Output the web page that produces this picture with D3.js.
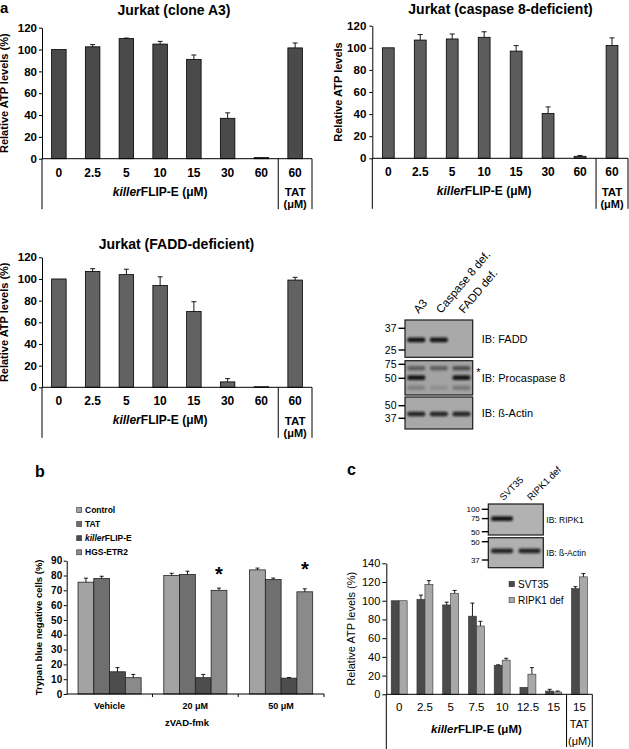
<!DOCTYPE html>
<html><head><meta charset="utf-8">
<script src="https://cdn.jsdelivr.net/npm/d3@7"></script>
<style>body{margin:0;background:#fff}svg{display:block}</style>
</head><body><svg id="fig" width="629" height="749"></svg>
<script>
// ---------------- DATA ----------------
const concA = ["0","2.5","5","10","15","30","60","60"];
const a3Values = [100,102.5,110,105,91,37,1,101.5];
const a3Errors = [0,2,0.5,2.5,4,5,0,4.5];
const casp8Values = [100,107,108,109.5,97,40.5,1.8,102];
const casp8Errors = [0,5,4.5,5,5,6,0.8,7];
const faddValues = [100,107,104,94,70,5,0.5,99];
const faddErrors = [0,2.5,5,8,9,3,0,2.5];
const yTicksA = [0,20,40,60,80,100,120];

const blotALanes = ["A3","Caspase 8 def.","FADD def."];
const blotAPanels = ["IB: FADD","IB: Procaspase 8","IB: ß-Actin"];
const blotAMarkers = [[37,25],[75,50],[50,37]];
// [panel, lane, kDa, intensity]
const blotABands = [[0,0,30,0.95],[0,1,30,0.95],
  [1,0,67,0.45],[1,1,67,0.45],[1,2,67,0.55],[1,0,51,0.95],[1,2,51,0.95],[1,0,38,0.22],[1,1,38,0.12],[1,2,38,0.28],
  [2,0,41,0.85],[2,1,41,0.85],[2,2,41,0.85]];

const groupsB = ["Vehicle","20 μM","50 μM"];
const seriesB = ["Control","TAT","killerFLIP-E","HGS-ETR2"];
const controlB = [75.5,80,83.8]; const controlErrB = [2.7,1.5,1.2];
const tatB = [78,80.7,77.3];     const tatErrB = [1.5,2.2,1];
const killerB = [15,11,10.7];    const killerErrB = [2.8,2.2,0.4];
const hgsB = [11,70,69];         const hgsErrB = [2.2,1.5,2];
const starsB = [["20 μM",83.7],["50 μM",87.1]];
const yTicksB = [0,10,20,30,40,50,60,70,80,90];

const blotCLanes = ["SVT35","RIPK1 def"];
const blotCPanels = ["IB: RIPK1","IB: ß-Actin"];
const blotCMarkers = [[100,75,50],[50,37]];
const blotCBands = [[0,0,75,0.95],[1,0,43,0.85],[1,1,43,0.85]];

const concC = ["0","2.5","5","7.5","10","12.5","15","15"];
const seriesC = ["SVT35","RIPK1 def"];
const svt35Values = [100,101.5,95.5,83.5,31,7.5,3.5,113];
const svt35Errors = [0,4.5,3,14,0.5,0,1.8,2];
const ripk1Values = [100,117.5,108,73,36.5,21.5,2.5,125.5];
const ripk1Errors = [0,4,3,5,2,7,1,3.5];
const yTicksC = [0,20,40,60,80,100,120,140];

// ---------------- HELPERS ----------------
const F = '"Liberation Sans", Arial, Helvetica, sans-serif';
const svg = d3.select("#fig");
function txt(g,x,y,s,o={}){
  const t=g.append("text").attr("x",x).attr("y",y).text(s)
    .attr("font-family",F).attr("font-size",o.size||11)
    .attr("font-weight",o.bold?"bold":"normal")
    .attr("text-anchor",o.anchor||"middle").attr("fill","#000");
  if(o.rotate) t.attr("transform",`rotate(${o.rotate},${x},${y})`);
  return t;
}
function killerTxt(g,x,y,size,suffix,anchor){
  const t=g.append("text").attr("x",x).attr("y",y).attr("font-family",F)
    .attr("font-size",size).attr("font-weight","bold").attr("text-anchor",anchor||"middle").attr("fill","#000");
  t.append("tspan").attr("font-style","italic").text("killer");
  t.append("tspan").text("FLIP-E"+suffix);
  return t;
}
function ln(g,x1,y1,x2,y2,w){
  g.append("line").attr("x1",x1).attr("y1",y1).attr("x2",x2).attr("y2",y2)
   .attr("stroke","#000").attr("stroke-width",w||1);
}
function errBars(g,cx,vals,errs,y,cap){
  vals.forEach((v,i)=>{
    if(errs[i]<=0) return;
    const c=cx(i);
    ln(g,c,y(v),c,y(v+errs[i]),0.9);
    ln(g,c-cap/2,y(v+errs[i]),c+cap/2,y(v+errs[i]),0.9);
  });
}
function styleAxis(a,size,bold){
  a.selectAll("text").attr("font-family",F).attr("font-size",size)
   .attr("font-weight",bold?"bold":"normal").attr("fill","#000");
  a.selectAll("line,path").attr("stroke","#000");
}

// ---------------- PANEL a: ATP charts ----------------
function atpChart(c){
  const g=svg.append("g");
  const n=c.values.length;
  const x=d3.scaleBand().domain(d3.range(n)).range([c.x0,c.x1]).paddingInner(c.pad).paddingOuter(c.pad/2);
  const y=d3.scaleLinear().domain([0,120]).range([c.yB,c.yT]);
  txt(g,c.titleX,c.titleY,c.title,{size:14,bold:true});
  const ya=g.append("g").attr("transform",`translate(${c.x0},0)`)
    .call(d3.axisLeft(y).tickValues(yTicksA).tickSize(3).tickPadding(c.tp).tickSizeOuter(0));
  styleAxis(ya,11.5,true);
  txt(g,c.ylx,(c.yT+c.yB)/2,c.ylabel,{size:11,bold:true,rotate:-90});
  g.selectAll("rect.bar").data(c.values).join("rect").attr("class","bar")
    .attr("x",(d,i)=>x(i)).attr("y",d=>y(d)).attr("width",x.bandwidth())
    .attr("height",d=>c.yB-y(d)).attr("fill",c.color).attr("stroke","#000").attr("stroke-width",0.8);
  errBars(g,i=>x(i)+x.bandwidth()/2,c.values,c.errors,y,5);
  const sep=c.x0+x.step()*7;
  ln(g,c.x0,c.yB,c.x1,c.yB);
  [c.x0,sep,c.x1].forEach(xx=>ln(g,xx,c.yB,xx,c.yB+50.5));
  concA.forEach((s,i)=>txt(g,x(i)+x.bandwidth()/2,c.yB+18,s,{size:12,bold:true}));
  killerTxt(g,(c.x0+sep)/2,c.yB+37,12," (μM)");
  txt(g,(sep+c.x1)/2,c.yB+37.5,"TAT",{size:11.5,bold:true});
  txt(g,(sep+c.x1)/2,c.yB+49.5,"(μM)",{size:11,bold:true});
}
atpChart({values:a3Values,errors:a3Errors,x0:42,x1:312,yT:27.7,yB:158.7,pad:0.57,tp:2,
  title:"Jurkat (clone A3)",titleX:174,titleY:14.5,ylabel:"Relative ATP levels (%)",ylx:8.5,color:"#4a4a4a"});
atpChart({values:casp8Values,errors:casp8Errors,x0:372.3,x1:628,yT:25.7,yB:158.3,pad:0.63,tp:3,
  title:"Jurkat (caspase 8-deficient)",titleX:500.5,titleY:13.5,ylabel:"Relative ATP levels",ylx:342,color:"#5c5c5c"});
atpChart({values:faddValues,errors:faddErrors,x0:42,x1:312,yT:257.3,yB:387.3,pad:0.57,tp:2,
  title:"Jurkat (FADD-deficient)",titleX:176.5,titleY:249,ylabel:"Relative ATP levels (%)",ylx:8.5,color:"#626262"});

txt(svg,0,12.5,"a",{size:15,bold:true,anchor:"start"});
txt(svg,35,477,"b",{size:16,bold:true,anchor:"start"});
txt(svg,347,474.5,"c",{size:16,bold:true,anchor:"start"});

// ---------------- Western blots ----------------
const defs=svg.append("defs");
defs.append("filter").attr("id","blur").attr("x","-30%").attr("y","-100%").attr("width","160%").attr("height","300%")
  .append("feGaussianBlur").attr("stdDeviation",0.9);
function blot(c){
  const g=svg.append("g");
  const lane=d3.scaleBand().domain(d3.range(c.lanes.length)).range([c.x0,c.x1]);
  c.lanes.forEach((L,i)=>txt(g,lane(i)+lane.bandwidth()/2+c.lblDx,c.boxes[0].top+c.lblDy,L,
     {size:c.lblSize,anchor:"start",rotate:c.angle}));
  c.boxes.forEach((b,bi)=>{
    const mk=c.markers[bi];
    const y=d3.scaleLog().domain([mk[0],mk[mk.length-1]]).range([b.m0,b.m1]);
    g.append("rect").attr("x",c.x0).attr("y",b.top).attr("width",c.x1-c.x0).attr("height",b.bot-b.top)
      .attr("fill",b.fill).attr("stroke","#1a1a1a").attr("stroke-width",1.2);
    c.bands.filter(d=>d[0]===bi).forEach(d=>{
      g.append("rect").attr("x",lane(d[1])+lane.bandwidth()*0.1).attr("width",lane.bandwidth()*0.8)
        .attr("y",y(d[2])-2.3).attr("height",4.6).attr("rx",2).attr("fill","#111")
        .attr("opacity",d[3]).attr("filter","url(#blur)");
    });
    mk.forEach(m=>{
      ln(g,c.x0-6.5,y(m),c.x0,y(m),1.4);
      txt(g,c.x0-8.5,y(m)+c.mkSize*0.36,String(m),{size:c.mkSize,anchor:"end"});
    });
    txt(g,c.labX,(b.top+b.bot)/2+c.labSize*0.36,c.panels[bi],{size:c.labSize,anchor:"start"});
  });
  return g;
}
const gA=blot({lanes:blotALanes,panels:blotAPanels,markers:blotAMarkers,bands:blotABands,
  x0:405,x1:472.7,lblDx:2.5,lblDy:-6,lblSize:11.5,angle:-50,mkSize:10.5,labSize:11,labX:481.7,
  boxes:[{top:320,bot:357.3,m0:328.3,m1:350,fill:"#a9a9a9"},
         {top:360.7,bot:395,m0:364.3,m1:378.3,fill:"#a3a3a3"},
         {top:397,bot:429,m0:405.7,m1:418.3,fill:"#a8a8a8"}]});
txt(gA,478.5,376,"*",{size:11});
blot({lanes:blotCLanes,panels:blotCPanels,markers:blotCMarkers,bands:blotCBands,
  x0:488.3,x1:543.3,lblDx:1.5,lblDy:-3,lblSize:9.5,angle:-45,mkSize:8,labSize:8.5,labX:546.3,
  boxes:[{top:504,bot:535,m0:509.3,m1:531.7,fill:"#b2b2b2"},
         {top:537.7,bot:567.7,m0:541.7,m1:560,fill:"#b0b0b0"}]});

// ---------------- PANEL b ----------------
(function(){
  const g=svg.append("g");
  const x0=66.7,x1=324,yB=694,yT=560.7;
  const x=d3.scaleBand().domain(groupsB).range([x0,x1]).paddingInner(0.264).paddingOuter(0.132);
  const xs=d3.scaleBand().domain(seriesB).range([0,x.bandwidth()]);
  const y=d3.scaleLinear().domain([0,90]).range([yB,yT]);
  const colors=["#a3a3a3","#6f6f6f","#4d4d4d","#8a8a8a"];
  const vals=[controlB,tatB,killerB,hgsB], errs=[controlErrB,tatErrB,killerErrB,hgsErrB];
  seriesB.forEach((s,si)=>{
    g.selectAll(null).data(vals[si]).join("rect")
      .attr("x",(d,i)=>x(groupsB[i])+xs(s)).attr("y",d=>y(d)).attr("width",xs.bandwidth())
      .attr("height",d=>yB-y(d)).attr("fill",colors[si]).attr("stroke","#222").attr("stroke-width",0.8);
    errBars(g,i=>x(groupsB[i])+xs(s)+xs.bandwidth()/2,vals[si],errs[si],y,4);
  });
  const ya=g.append("g").attr("transform",`translate(${x0},0)`)
    .call(d3.axisLeft(y).tickValues(yTicksB).tickSize(3).tickPadding(1.5).tickSizeOuter(0));
  styleAxis(ya,10,true);
  ln(g,x0,yB,x1,yB);
  groupsB.forEach((gr,i)=>{
    const bx=x0+x.step()*(i+1);
    ln(g,bx,yB,bx,yB+3);
    txt(g,x(gr)+x.bandwidth()/2,708.5,gr,{size:9,bold:true});
  });
  txt(g,187,726,"zVAD-fmk",{size:9.5,bold:true});
  txt(g,42,(yB+yT)/2,"Trypan blue negative cells (%)",{size:9.5,bold:true,rotate:-90});
  starsB.forEach(s=>txt(g,x(s[0])+xs("HGS-ETR2")+xs.bandwidth()/2,y(s[1])+11.4,"*",{size:20,bold:true}));
  // legend
  seriesB.forEach((s,i)=>{
    const cy=510+i*14.1;
    g.append("rect").attr("x",76.7).attr("y",cy-2.5).attr("width",5).attr("height",5)
      .attr("fill",colors[i]).attr("stroke","#333").attr("stroke-width",0.6);
    if(s==="killerFLIP-E") killerTxt(g,85,cy+3,8.5,"","start");
    else txt(g,85,cy+3,s,{size:8.5,bold:true,anchor:"start"});
  });
})();

// ---------------- PANEL c ----------------
(function(){
  const g=svg.append("g");
  const x0=386.3,x1=592.3,yB=694.3,yT=563.3;
  const x=d3.scaleBand().domain(d3.range(concC.length)).range([x0,x1]).paddingInner(0.38).paddingOuter(0.19);
  const xs=d3.scaleBand().domain(seriesC).range([0,x.bandwidth()]);
  const y=d3.scaleLinear().domain([0,140]).range([yB,yT]);
  const colors=["#4a4a4a","#a8a8a8"];
  const vals=[svt35Values,ripk1Values], errs=[svt35Errors,ripk1Errors];
  seriesC.forEach((s,si)=>{
    g.selectAll(null).data(vals[si]).join("rect")
      .attr("x",(d,i)=>x(i)+xs(s)).attr("y",d=>y(d)).attr("width",xs.bandwidth())
      .attr("height",d=>yB-y(d)).attr("fill",colors[si]).attr("stroke","#333").attr("stroke-width",0.6);
    errBars(g,i=>x(i)+xs(s)+xs.bandwidth()/2,vals[si],errs[si],y,4);
  });
  const ya=g.append("g").attr("transform",`translate(${x0},0)`)
    .call(d3.axisLeft(y).tickValues(yTicksC).tickSize(4).tickPadding(2).tickSizeOuter(0));
  styleAxis(ya,11,false);
  txt(g,355.5,(yB+yT)/2,"Relative ATP levels (%)",{size:11,rotate:-90});
  const sep=x0+x.step()*7;
  ln(g,x0,yB,x1,yB);
  ln(g,x0,yB,x0,749);
  ln(g,sep,yB,sep,747); ln(g,x1,yB,x1,747);
  concC.forEach((s,i)=>txt(g,x(i)+x.bandwidth()/2,711.3,s,{size:11.5}));
  killerTxt(g,(x0+sep)/2,733,11.5," (μM)");
  txt(g,(sep+x1)/2,728,"TAT",{size:11});
  txt(g,(sep+x1)/2,745,"(μM)",{size:11});
  seriesC.forEach((s,i)=>{
    const cy=584+i*16;
    g.append("rect").attr("x",509).attr("y",cy-2.75).attr("width",5.5).attr("height",5.5)
      .attr("fill",colors[i]).attr("stroke","#333").attr("stroke-width",0.5);
    txt(g,518,cy+3.5,s,{size:10,anchor:"start"});
  });
})();
</script></body></html>
